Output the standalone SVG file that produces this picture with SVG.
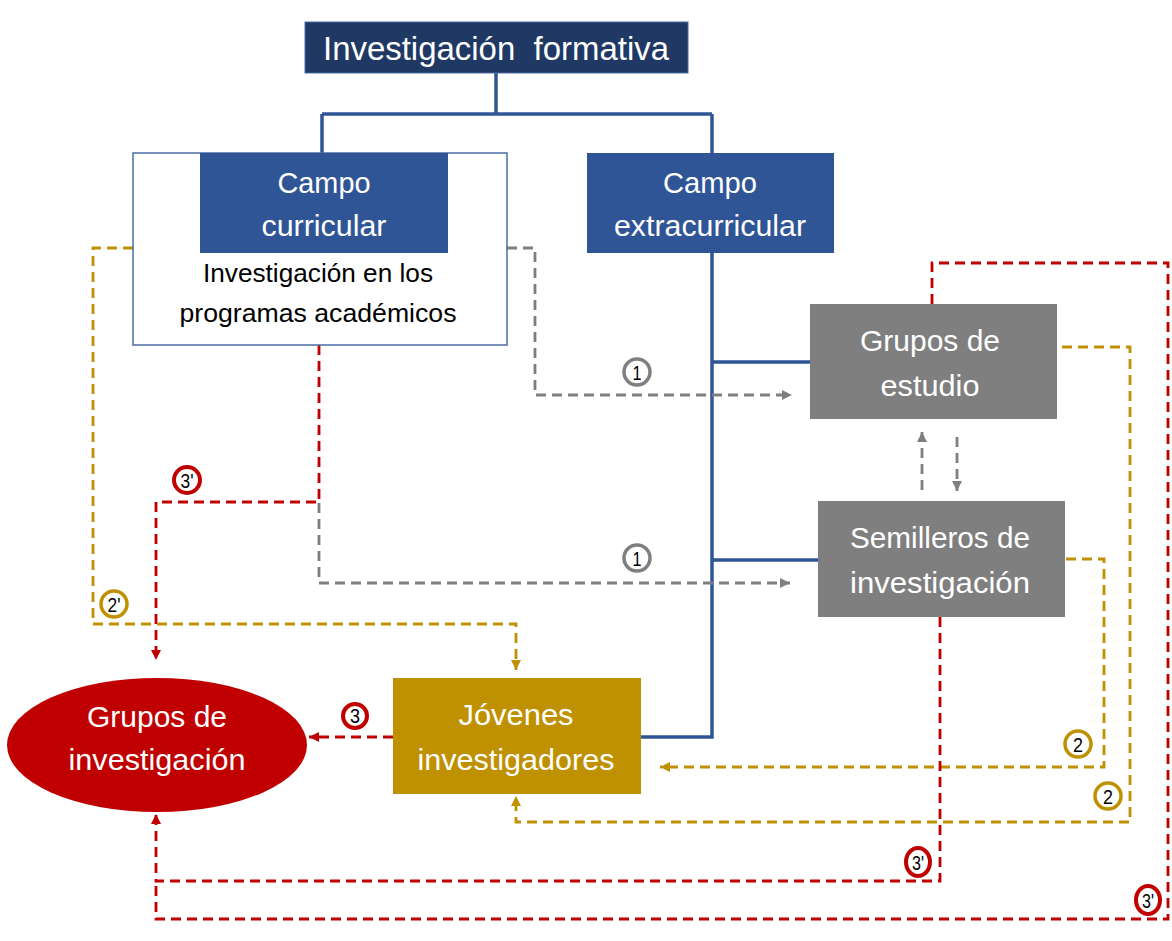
<svg xmlns="http://www.w3.org/2000/svg" width="1172" height="941" viewBox="0 0 1172 941">
<defs>
<style>
.t{font-family:"Liberation Sans",Arial,sans-serif;text-anchor:middle}
.w{fill:#ffffff}
.k{fill:#000000}
.solid{fill:none;stroke:#2f5597;stroke-width:3.5}
.dg{fill:none;stroke:#7f7f7f;stroke-width:2.8;stroke-dasharray:10 6}
.dy{fill:none;stroke:#bf9000;stroke-width:2.8;stroke-dasharray:10 6}
.dr{fill:none;stroke:#c00000;stroke-width:2.8;stroke-dasharray:10 6}
.cg{fill:#fff;stroke:#7f7f7f;stroke-width:3.5}
.cy{fill:#fff;stroke:#bf9000;stroke-width:3.5}
.cr{fill:#fff;stroke:#c00000;stroke-width:4}
.n{font-family:"Liberation Sans",Arial,sans-serif;font-size:21px;text-anchor:middle;fill:#000}
</style>
<marker id="ag" viewBox="0 0 10 10" refX="10" refY="5" markerWidth="11" markerHeight="10" markerUnits="userSpaceOnUse" orient="auto"><path d="M0,0L10,5L0,10z" fill="#7f7f7f"/></marker>
<marker id="ay" viewBox="0 0 10 10" refX="10" refY="5" markerWidth="11" markerHeight="10" markerUnits="userSpaceOnUse" orient="auto"><path d="M0,0L10,5L0,10z" fill="#bf9000"/></marker>
<marker id="ar" viewBox="0 0 10 10" refX="10" refY="5" markerWidth="11" markerHeight="10" markerUnits="userSpaceOnUse" orient="auto"><path d="M0,0L10,5L0,10z" fill="#c00000"/></marker>
</defs>
<rect width="1172" height="941" fill="#ffffff"/>

<g id="connectors">
<path class="solid" d="M496,73V114M322,114H712M322,114V153M712,114V153"/>
<path class="solid" d="M712,253V737H641M712,362H810M712,560H818"/>
<path class="dg" d="M507,248H535V395H792" marker-end="url(#ag)"/>
<path class="dg" d="M319,503V583H790" marker-end="url(#ag)"/>
<path class="dg" d="M922,490V432" marker-end="url(#ag)"/>
<path class="dg" d="M957,437V491" marker-end="url(#ag)"/>
<path class="dr" d="M319,345V502H156V660" marker-end="url(#ar)"/>
<path class="dy" d="M133,248H93V624H516V670" marker-end="url(#ay)"/>
<path class="dr" d="M393,737H309" marker-end="url(#ar)"/>
<path class="dy" d="M1062,347H1130V822H516V796" marker-end="url(#ay)"/>
<path class="dy" d="M1066,559H1104V767H660" marker-end="url(#ay)"/>
<path class="dr" d="M940,617V881H156V814" marker-end="url(#ar)"/>
<path class="dr" d="M932,304V263H1168V919H156V881"/>
</g>

<g id="labels">
<circle class="cg" cx="637" cy="372" r="13"/><text class="n" x="637" y="379.5" textLength="9" lengthAdjust="spacingAndGlyphs">1</text>
<circle class="cg" cx="637" cy="558" r="13"/><text class="n" x="637" y="565.5" textLength="9" lengthAdjust="spacingAndGlyphs">1</text>
<circle class="cr" cx="187" cy="480" r="13"/><text class="n" x="187" y="487.5" textLength="13" lengthAdjust="spacingAndGlyphs">3'</text>
<circle class="cy" cx="114" cy="604" r="13"/><text class="n" x="114" y="611.5" textLength="13" lengthAdjust="spacingAndGlyphs">2'</text>
<circle class="cr" cx="355" cy="716" r="12"/><text class="n" x="355" y="723" textLength="10" lengthAdjust="spacingAndGlyphs">3</text>
<circle class="cy" cx="1078" cy="744" r="13"/><text class="n" x="1078" y="751.5" textLength="10" lengthAdjust="spacingAndGlyphs">2</text>
<circle class="cy" cx="1108" cy="796" r="13"/><text class="n" x="1108" y="803.5" textLength="10" lengthAdjust="spacingAndGlyphs">2</text>
<ellipse class="cr" cx="918" cy="862" rx="12" ry="14"/><text class="n" x="918" y="869.5" textLength="12" lengthAdjust="spacingAndGlyphs">3'</text>
<ellipse class="cr" cx="1148" cy="900" rx="12" ry="14"/><text class="n" x="1148" y="907.5" textLength="12" lengthAdjust="spacingAndGlyphs">3'</text>
</g>

<g id="node-title">
<rect x="305" y="22" width="383" height="51" fill="#1f3864" stroke="#4a6fa5" stroke-width="1"/>
<text class="t w" x="496" y="60" font-size="34" textLength="346" lengthAdjust="spacingAndGlyphs" xml:space="preserve">Investigación  formativa</text>
</g>

<g id="node-curricular">
<rect x="133" y="153" width="374" height="192" fill="#ffffff" stroke="#4a6fa5" stroke-width="1.5"/>
<rect x="200" y="153" width="248" height="100" fill="#2f5597"/>
<text class="t w" x="324" y="193" font-size="29" textLength="93" lengthAdjust="spacingAndGlyphs">Campo</text>
<text class="t w" x="324" y="236" font-size="29" textLength="125" lengthAdjust="spacingAndGlyphs">curricular</text>
<text class="t k" x="318" y="282" font-size="26" textLength="230" lengthAdjust="spacingAndGlyphs">Investigación en los</text>
<text class="t k" x="318" y="322" font-size="26" textLength="277" lengthAdjust="spacingAndGlyphs">programas académicos</text>
</g>

<g id="node-extracurricular">
<rect x="587" y="153" width="247" height="100" fill="#2f5597"/>
<text class="t w" x="710" y="193" font-size="29" textLength="94" lengthAdjust="spacingAndGlyphs">Campo</text>
<text class="t w" x="710" y="236" font-size="29" textLength="192" lengthAdjust="spacingAndGlyphs">extracurricular</text>
</g>

<g id="node-grupos-estudio">
<rect x="810" y="304" width="247" height="115" fill="#7f7f7f"/>
<text class="t w" x="930" y="351" font-size="29" textLength="140" lengthAdjust="spacingAndGlyphs">Grupos de</text>
<text class="t w" x="930" y="396" font-size="29" textLength="99" lengthAdjust="spacingAndGlyphs">estudio</text>
</g>

<g id="node-semilleros">
<rect x="818" y="501" width="247" height="116" fill="#7f7f7f"/>
<text class="t w" x="940" y="548" font-size="29" textLength="180" lengthAdjust="spacingAndGlyphs">Semilleros de</text>
<text class="t w" x="940" y="593" font-size="29" textLength="180" lengthAdjust="spacingAndGlyphs">investigación</text>
</g>

<g id="node-jovenes">
<rect x="393" y="678" width="248" height="116" fill="#bf9000"/>
<text class="t w" x="516" y="725" font-size="29" textLength="115" lengthAdjust="spacingAndGlyphs">Jóvenes</text>
<text class="t w" x="516" y="770" font-size="29" textLength="197" lengthAdjust="spacingAndGlyphs">investigadores</text>
</g>

<g id="node-grupos-investigacion">
<ellipse cx="157" cy="745" rx="150" ry="67" fill="#c00000"/>
<text class="t w" x="157" y="727" font-size="29" textLength="140" lengthAdjust="spacingAndGlyphs">Grupos de</text>
<text class="t w" x="157" y="770" font-size="29" textLength="177" lengthAdjust="spacingAndGlyphs">investigación</text>
</g>
</svg>
